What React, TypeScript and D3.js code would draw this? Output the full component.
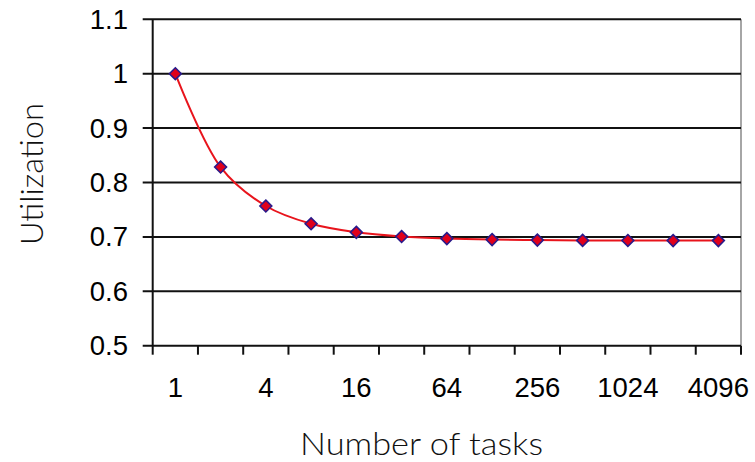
import React from "react";
import * as d3 from "d3";

const tasks = ["1", "2", "4", "8", "16", "32", "64", "128", "256", "512", "1024", "2048", "4096"];
const utilization = [1.0, 0.8284, 0.7568, 0.7241, 0.7084, 0.7007, 0.6969, 0.695, 0.6941, 0.6936, 0.6934, 0.6932, 0.6932];
const yTicks = [0.5, 0.6, 0.7, 0.8, 0.9, 1, 1.1];
const xLabelled = ["1", "4", "16", "64", "256", "1024", "4096"];

const W = 755;
const H = 462;
const left = 152.7;
const right = 741;
const top = 19.3;
const bottom = 345.7;

export default function App() {
  const x = d3.scaleBand<string>().domain(tasks).range([left, right]).paddingInner(0).paddingOuter(0);
  const y = d3.scaleLinear().domain([0.5, 1.1]).range([bottom, top]);
  const bw = x.bandwidth();
  const cx = (t: string) => (x(t) as number) + bw / 2;

  const pts: [number, number][] = tasks.map((t, i) => [cx(t), y(utilization[i])]);
  const line = d3.line<[number, number]>().curve(d3.curveCatmullRom.alpha(0.5))(pts) || "";

  const tickX = tasks.map((t) => x(t) as number).concat([right]);
  const diamond = d3.symbol().type(d3.symbolDiamond2).size(90)() || "";
  const fmt = (v: number) => (v === 1 ? "1" : d3.format(".1f")(v));

  return (
    <svg width={W} height={H} style={{ position: "absolute", left: 0, top: 0, background: "#fff" }}>
      <line x1={right} x2={right} y1={top} y2={bottom} stroke="#888" strokeWidth={1.5} />
      {yTicks.map((v) => (
        <line key={"g" + v} x1={left - 10} x2={right} y1={y(v)} y2={y(v)} stroke="#111" strokeWidth={2} />
      ))}
      <line x1={left} x2={left} y1={top} y2={bottom} stroke="#111" strokeWidth={2} />
      {tickX.map((tx, i) => (
        <line key={"t" + i} x1={tx} x2={tx} y1={bottom} y2={bottom + 9} stroke="#111" strokeWidth={2} />
      ))}
      {yTicks.map((v) => (
        <text key={"yl" + v} x={128} y={y(v) + 9.5} textAnchor="end" fontFamily="Liberation Sans, Arial, sans-serif" fontSize={27.5} fill="#000">
          {fmt(v)}
        </text>
      ))}
      {xLabelled.map((t) => (
        <text key={"xl" + t} x={cx(t)} y={397} textAnchor="middle" fontFamily="Liberation Sans, Arial, sans-serif" fontSize={27.5} fill="#000">
          {t}
        </text>
      ))}
      <path d={line} fill="none" stroke="#e8141c" strokeWidth={2} />
      {pts.map((p, i) => (
        <path key={"m" + i} d={diamond} transform={`translate(${p[0]},${p[1]})`} fill="#e0001b" stroke="#2a1a8a" strokeWidth={1.6} />
      ))}
      <text x={421.5} y={455} textAnchor="middle" fontFamily="Lato, sans-serif" fontWeight={300} fontSize={31} fill="#111" textLength={243} lengthAdjust="spacingAndGlyphs">
        Number of tasks
      </text>
      <text transform="translate(43,174) rotate(-90)" textAnchor="middle" fontFamily="Lato, sans-serif" fontWeight={300} fontSize={32} fill="#111" textLength={142} lengthAdjust="spacingAndGlyphs">
        Utilization
      </text>
    </svg>
  );
}
